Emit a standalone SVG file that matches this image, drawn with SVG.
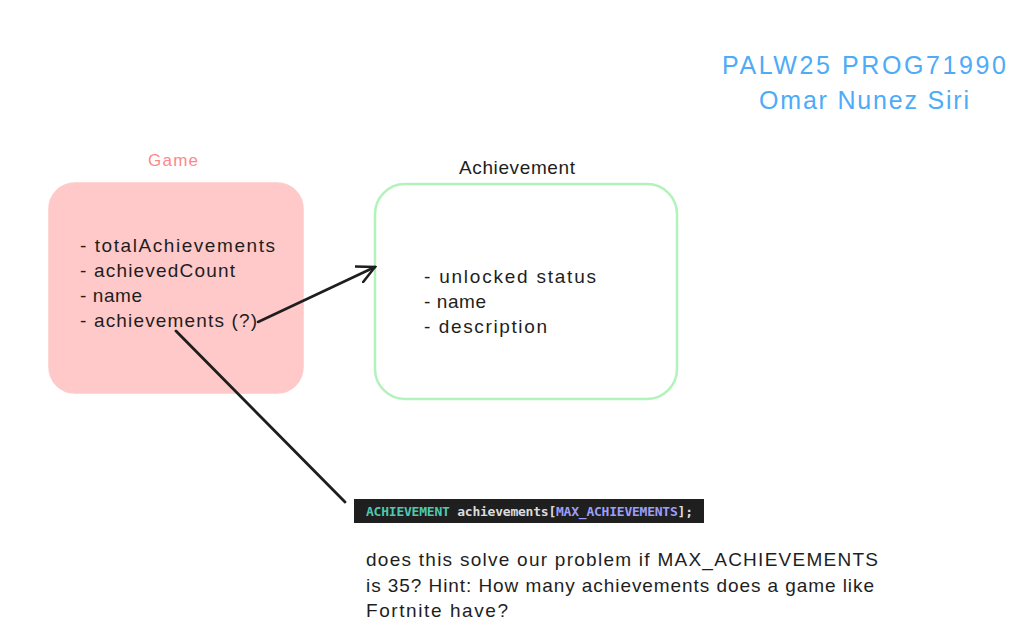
<svg xmlns="http://www.w3.org/2000/svg" width="1012" height="635" viewBox="0 0 1012 635">
<style>
.t{font-family:"Liberation Sans",Arial,sans-serif;font-size:19px;fill:#1e1e1e}
.c{font-family:"DejaVu Sans Mono","Liberation Mono",monospace;font-size:13px;font-weight:bold}
</style>
<defs>
<marker id="ah" viewBox="0 0 20 20" refX="18" refY="10" markerWidth="20" markerHeight="20" markerUnits="userSpaceOnUse" orient="auto">
<path d="M0,1 L18,10 L0,19" fill="none" stroke="#1e1e1e" stroke-width="2.5" stroke-linecap="round"/>
</marker>
</defs>
<rect width="1012" height="635" fill="#ffffff"/>
<g id="title">
<text x="864" y="74" text-anchor="middle" font-family="Liberation Sans,Arial,sans-serif" font-size="25" fill="#4dabf7" textLength="284">PALW25 PROG71990</text>
<text x="864" y="109" text-anchor="middle" font-family="Liberation Sans,Arial,sans-serif" font-size="25" fill="#4dabf7" textLength="210">Omar Nunez Siri</text>
</g>
<g id="game">
<text x="173" y="166" text-anchor="middle" font-family="Liberation Sans,Arial,sans-serif" font-size="17" fill="#ff8787" textLength="50">Game</text>
<rect x="49" y="183" width="254" height="210" rx="26" fill="#ffc9c9" stroke="#ffc9c9" stroke-width="1.5"/>
<text class="t" x="80" y="252" textLength="195">- totalAchievements</text>
<text class="t" x="80" y="277" textLength="155">- achievedCount</text>
<text class="t" x="80" y="302" textLength="62">- name</text>
<text class="t" x="80" y="327" textLength="177">- achievements (?)</text>
</g>
<g id="achievement">
<text class="t" x="517" y="174" text-anchor="middle" font-size="20" textLength="116">Achievement</text>
<rect x="375" y="184" width="302" height="215" rx="30" fill="#ffffff" stroke="#b2f2bb" stroke-width="2.5"/>
<text class="t" x="424" y="283" textLength="172">- unlocked status</text>
<text class="t" x="424" y="308" textLength="62">- name</text>
<text class="t" x="424" y="333" textLength="123">- description</text>
</g>
<g id="code">
<rect x="354" y="499" width="350" height="24" fill="#1f1f1f"/>
<text class="c" x="366" y="516" textLength="327"><tspan fill="#4ec9b0">ACHIEVEMENT</tspan><tspan fill="#dcdcdc"> achievements[</tspan><tspan fill="#9d9dfa">MAX_ACHIEVEMENTS</tspan><tspan fill="#dcdcdc">];</tspan></text>
</g>
<g id="note">
<text class="t" x="366" y="566" textLength="512">does this solve our problem if MAX_ACHIEVEMENTS</text>
<text class="t" x="366" y="592" textLength="508">is 35? Hint: How many achievements does a game like</text>
<text class="t" x="366" y="617" textLength="142">Fortnite have?</text>
</g>
<g id="connectors" fill="none" stroke="#1e1e1e" stroke-width="2.6" stroke-linecap="round">
<path d="M258,322 L375,267" marker-end="url(#ah)"/>
<path d="M176,331 L345,502" stroke-width="2.8"/>
</g>
</svg>
